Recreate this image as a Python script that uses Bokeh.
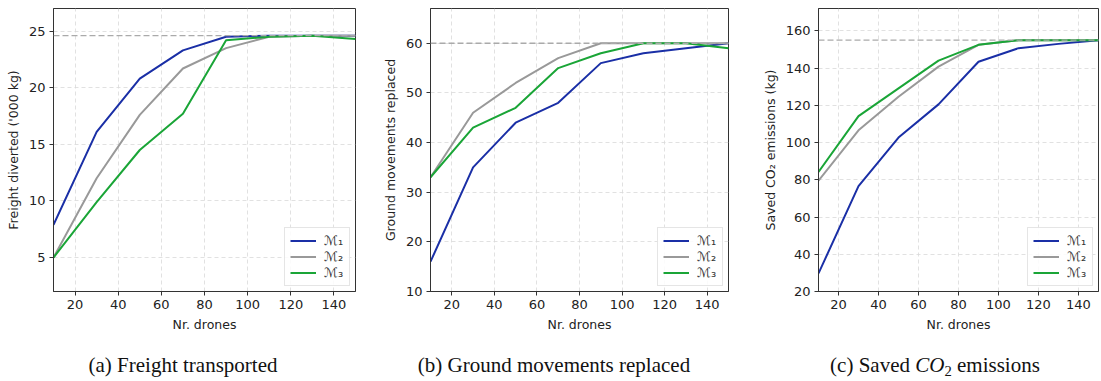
from bokeh.plotting import figure
from bokeh.models import Span, Legend, LegendItem, Div, FixedTicker
from bokeh.layouts import row, column
from bokeh.embed import file_html
from bokeh.resources import INLINE

drones = [10, 30, 50, 70, 90, 110, 130, 150]

freight_m1 = [7.9, 16.1, 20.8, 23.3, 24.5, 24.6, 24.6, 24.6]
freight_m2 = [5.0, 12.0, 17.6, 21.7, 23.5, 24.5, 24.6, 24.6]
freight_m3 = [5.0, 9.9, 14.5, 17.7, 24.2, 24.5, 24.6, 24.3]
freight_max = 24.6

ground_m1 = [16, 35, 44, 48, 56, 58, 59, 60]
ground_m2 = [33, 46, 52, 57, 60, 60, 60, 60]
ground_m3 = [33, 43, 47, 55, 58, 60, 60, 59]
ground_max = 60

co2_m1 = [29.7, 76.6, 102.7, 120.5, 143.4, 150.7, 153.0, 155.0]
co2_m2 = [79.5, 106.6, 124.6, 140.8, 152.5, 155.0, 155.0, 155.0]
co2_m3 = [84.2, 114.2, 129.1, 144.0, 152.5, 155.0, 155.0, 155.0]
co2_max = 155

series_names = ["\u2133\u2081", "\u2133\u2082", "\u2133\u2083"]
colors = ["#1a2fa6", "#999999", "#1aa537"]

captions = ["(a) Freight transported",
            "(b) Ground movements replaced",
            "(c) Saved <i>CO</i><sub style='font-size:70%;line-height:0;vertical-align:-0.3em'>2</sub> emissions"]


def make_panel(ys, ymax, yrange, yticks, ylabel, width, left, right):
    p = figure(width=width, height=334, x_range=(10, 150), y_range=yrange,
               output_backend="svg", toolbar_location=None,
               min_border_left=left, min_border_right=right,
               min_border_top=8, min_border_bottom=10)
    p.background_fill_color = "white"
    p.outline_line_color = "#333333"
    p.outline_line_width = 1
    p.xaxis.axis_label = "Nr. drones"
    p.yaxis.axis_label = ylabel
    p.xaxis.ticker = FixedTicker(ticks=[20, 40, 60, 80, 100, 120, 140])
    p.yaxis.ticker = FixedTicker(ticks=yticks)
    for ax in (p.xaxis[0], p.yaxis[0]):
        ax.axis_line_color = "#333333"
        ax.major_tick_line_color = "#333333"
        ax.major_tick_in = 0
        ax.major_tick_out = 4
        ax.minor_tick_line_color = None
        ax.major_label_text_font = "DejaVu Sans"
        ax.major_label_text_font_size = "13px"
        ax.major_label_text_color = "#222222"
        ax.axis_label_text_font = "DejaVu Sans"
        ax.axis_label_text_font_size = "12.5px"
        ax.axis_label_text_font_style = "normal"
        ax.axis_label_text_color = "#222222"
        ax.major_label_standoff = 4
        ax.axis_label_standoff = 5
    p.grid.grid_line_color = "#d9d9d9"
    p.grid.grid_line_dash = "4 3"
    p.grid.grid_line_width = 0.8
    p.add_layout(Span(location=ymax, dimension="width", line_color="#aaaaaa",
                      line_dash="6 3", line_width=1.3))
    items = []
    for name, y, c in zip(series_names, ys, colors):
        r = p.line(drones, y, line_color=c, line_width=2)
        items.append(LegendItem(label=name, renderers=[r]))
    leg = Legend(items=items, location="bottom_right")
    leg.label_text_font = "DejaVu Sans"
    leg.label_text_font_size = "13px"
    leg.label_text_color = "#333333"
    leg.glyph_width = 26
    leg.glyph_height = 15
    leg.spacing = 1
    leg.padding = 5
    leg.margin = 5
    leg.label_standoff = 8
    leg.border_line_color = "#cccccc"
    leg.background_fill_alpha = 0.85
    p.add_layout(leg)
    return p


pa = make_panel([freight_m1, freight_m2, freight_m3], freight_max, (2, 27),
                [5, 10, 15, 20, 25], "Freight diverted ('000 kg)", 379, 53, 24)
pb = make_panel([ground_m1, ground_m2, ground_m3], ground_max, (10, 67),
                [10, 20, 30, 40, 50, 60], "Ground movements replaced", 380, 47, 31)
pc = make_panel([co2_m1, co2_m2, co2_m3], co2_max, (20, 172),
                [20, 40, 60, 80, 100, 120, 140, 160], "Saved CO\u2082 emissions (kg)",
                340, 52, 1)

# caption boxes: (width, left padding) chosen so text centres sit under each panel
cap_boxes = [(366, 0), (376, 0), (330, 56)]
divs = []
for txt, (w, pad) in zip(captions, cap_boxes):
    divs.append(Div(text=txt, width=w, height=45, margin=0,
                    styles={"font-family": "Liberation Serif", "font-size": "21px",
                            "line-height": "22px",
                            "text-align": "center", "padding-top": "20px",
                            "padding-left": f"{pad}px", "overflow": "visible",
                            "color": "#111111", "box-sizing": "border-box"}))

layout = column(row(pa, pb, pc, spacing=0), row(*divs, spacing=0), spacing=0)
open("out.html", "w").write(file_html(layout, INLINE))
